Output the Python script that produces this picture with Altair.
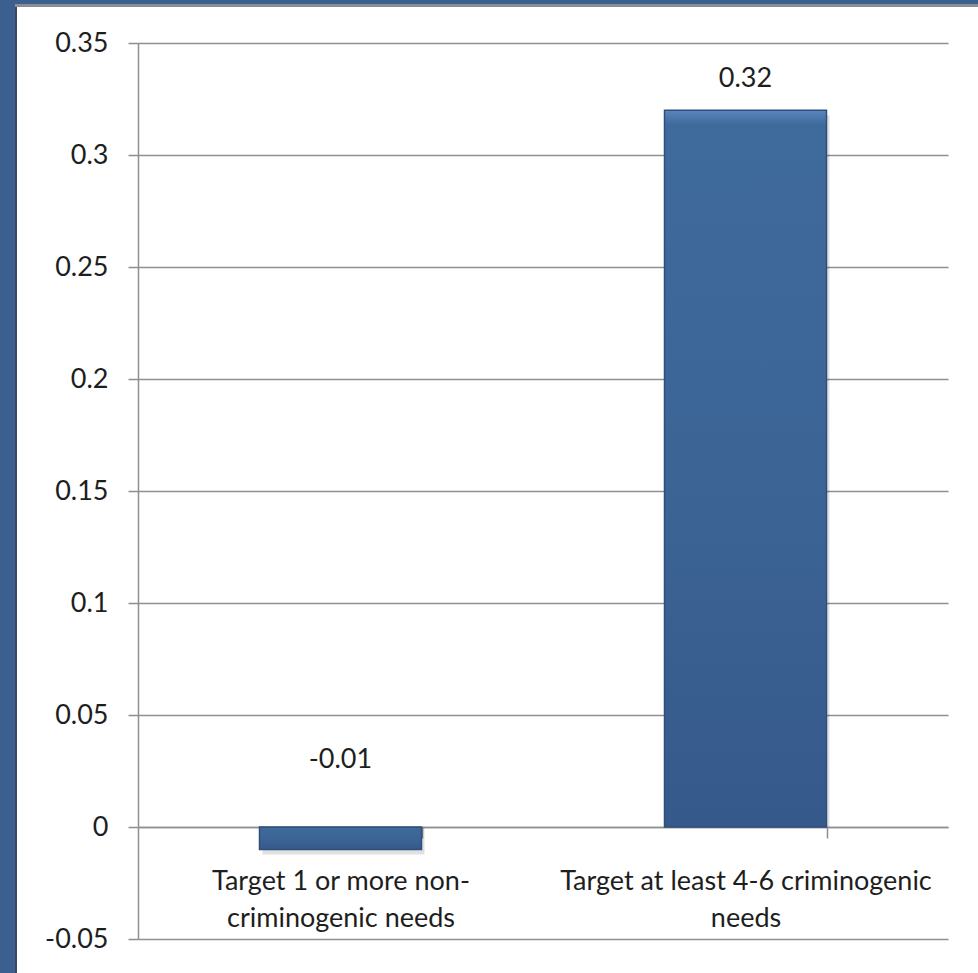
import altair as alt
import pandas as pd

categories = [
    "Target 1 or more non-\ncriminogenic needs",
    "Target at least 4-6 criminogenic\nneeds",
]
values = [-0.01, 0.32]
y_ticks = [-0.05, 0, 0.05, 0.1, 0.15, 0.2, 0.25, 0.3, 0.35]

df = pd.DataFrame({"category": categories, "value": values})

W, H = 810, 896
FONT = "Lato"
TXT = "#1e1e1e"
GRID = "#8f8f8f"
BAR = "#3c6596"
FRAME = "#3b5f8e"

base = alt.Chart(df)

x_enc = alt.X(
    "category:N",
    sort=None,
    title=None,
    scale=alt.Scale(paddingInner=0.6, paddingOuter=0.3),
    axis=alt.Axis(
        orient="bottom",
        offset=-112,
        labelAngle=0,
        labelExpr="split(datum.label, '\\n')",
        labelFont=FONT,
        labelFontSize=27,
        labelColor=TXT,
        labelLineHeight=37,
        labelPadding=30,
        labelBaseline="top",
        labelLimit=0,
        tickBand="extent",
        tickSize=11,
        tickColor=GRID,
        tickWidth=1.5,
        domainColor=GRID,
        domainWidth=1.5,
        grid=False,
    ),
)

y_enc = alt.Y(
    "value:Q",
    title=None,
    scale=alt.Scale(domain=[-0.05, 0.35], nice=False, zero=False),
    axis=alt.Axis(
        values=y_ticks,
        labelExpr="datum.value + ''",
        labelFont=FONT,
        labelFontSize=27,
        labelColor=TXT,
        labelPadding=20,
        tickSize=10,
        tickColor=GRID,
        tickWidth=1.5,
        domainColor=GRID,
        domainWidth=1.5,
        grid=True,
        gridColor=GRID,
        gridWidth=1.5,
    ),
)

shadow = base.mark_bar(color="#000000", opacity=0.12, xOffset=3, yOffset=5).encode(
    x=x_enc, y=y_enc, y2=alt.datum(0)
)

bars = base.mark_bar(
    color=alt.Gradient(
        gradient="linear",
        x1=0, x2=0, y1=0, y2=1,
        stops=[
            alt.GradientStop(color="#5a86bf", offset=0),
            alt.GradientStop(color="#3f6a9c", offset=0.02),
            alt.GradientStop(color="#3c6596", offset=0.5),
            alt.GradientStop(color="#35598a", offset=1),
        ],
    ),
    stroke="#2d4f7c",
    strokeWidth=1.5,
).encode(x=x_enc, y=y_enc, y2=alt.datum(0))

labels_pos = (
    base.transform_filter("datum.value >= 0")
    .transform_calculate(lbl="datum.value + ''")
    .mark_text(font=FONT, fontSize=27, color=TXT, baseline="alphabetic", dy=-23)
    .encode(x=alt.X("category:N", sort=None), y="value:Q", text="lbl:N")
)
labels_neg = (
    base.transform_filter("datum.value < 0")
    .transform_calculate(lbl="datum.value + ''")
    .mark_text(font=FONT, fontSize=27, color=TXT, baseline="alphabetic", dy=-59)
    .encode(x=alt.X("category:N", sort=None), y=alt.datum(0), text="lbl:N")
)

# decorative slide frame (blue strips at left and top)
frame_left = base.mark_rect(color=FRAME, clip=False).encode(
    x=alt.value(-138), x2=alt.value(-123), y=alt.value(-43), y2=alt.value(H + 34)
)
frame_left_edge = base.mark_rect(color="#3e4a5c", clip=False).encode(
    x=alt.value(-123), x2=alt.value(-121), y=alt.value(-36), y2=alt.value(H + 34)
)
frame_top = base.mark_rect(color=FRAME, clip=False).encode(
    x=alt.value(-138), x2=alt.value(W + 30), y=alt.value(-43), y2=alt.value(-39)
)
frame_top_edge = base.mark_rect(color="#8a8f96", clip=False).encode(
    x=alt.value(-123), x2=alt.value(W + 30), y=alt.value(-39), y2=alt.value(-36)
)

chart = (
    alt.layer(shadow, bars, labels_pos, labels_neg,
              frame_left, frame_left_edge, frame_top, frame_top_edge)
    .properties(width=W, height=H, padding=0, background="white")
    .configure_view(stroke=None)
)

chart.save("out.html", embed_options={"renderer": "svg", "actions": False})
